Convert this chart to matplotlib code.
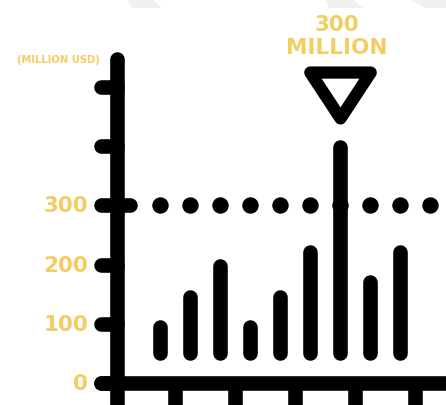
import matplotlib
matplotlib.use("Agg")
import matplotlib.pyplot as plt
from matplotlib.markers import MarkerStyle
from matplotlib.path import Path
from matplotlib.patches import Polygon

# data (million USD)
bar_pos = [1, 2, 3, 4, 5, 6, 7, 8, 9]
bar_vals = [95, 146, 197, 95, 146, 222, 398, 171, 222]
bar_base = 50
y_ticks = [0, 100, 200, 300, 400, 500]
y_labels = ['0', '100', '200', '300', '', '']
x_ticks = [1.5, 3.5, 5.5, 7.5, 9.5]
ref_level = 300
ref_dots = [1, 2, 3, 4, 5, 6, 7, 8, 9, 10]
peak_idx = 6
peak_text = ['300', 'MILLION']

YEL = '#f4cd62'
LW = 10.5
FONT = 'DejaVu Sans'

fig = plt.figure(figsize=(4.46, 4.06), dpi=100)
fig.patch.set_facecolor('white')

# faint watermark shapes at the top
for pts in [[(127, 0), (152, 0), (162, 9), (132, 9)],
            [(325, 0), (352, 0), (363, 9), (329, 9)],
            [(410, 0), (446, 0), (446, 9), (425, 9)]]:
    fig.patches.append(Polygon([(x / 446, 1 - y / 406) for x, y in pts],
                               closed=True, transform=fig.transFigure,
                               facecolor='#f0f0f0', edgecolor='none', zorder=0))

ax = fig.add_axes([0, 0, 1, 1])
ax.set_xlim(-4.333, 10.533)
ax.set_ylim(-37.2, 648.6)
ax.axis('off')
ax.patch.set_alpha(0)

x_axis = -0.433
# axes
ax.plot([x_axis, x_axis], [-60, 547], color='black', lw=LW, solid_capstyle='round')
ax.plot([-0.967, 12], [0, 0], color='black', lw=LW, solid_capstyle='round')

# y ticks + labels
for t, lab in zip(y_ticks, y_labels):
    right = 0.0 if t == ref_level else x_axis
    ax.plot([-0.967, right], [t, t], color='black', lw=LW, solid_capstyle='round')
    if lab:
        ax.text(-1.4, t, lab, ha='right', va='center', color=YEL,
                fontsize=15.5, fontweight='bold', family=FONT)

# x ticks
for t in x_ticks:
    ax.plot([t, t], [0, -60], color='black', lw=LW, solid_capstyle='butt')

# dotted reference line
ax.plot(ref_dots, [ref_level] * len(ref_dots), ls='none', marker='o',
        ms=10.8, color='black')

# bars as rounded strokes
for x, v in zip(bar_pos, bar_vals):
    ax.plot([x, x], [bar_base, v], color='black', lw=LW, solid_capstyle='round')

# unit label
ax.text(-1.0, 547, '(MILLION USD)', ha='right', va='center', color=YEL,
        fontsize=7.2, fontweight='bold', family=FONT)

# peak marker
tri = Path([(-1, 0.76), (1, 0.76), (0, -0.76), (-1, 0.76)],
           [Path.MOVETO, Path.LINETO, Path.LINETO, Path.CLOSEPOLY])
ms = MarkerStyle(tri, joinstyle='round')
px = bar_pos[peak_idx]
ax.plot([px], [486], marker=ms, ms=43.5, mfc='white', mec='black', mew=8.8,
        ls='none')
ax.text(px - 0.1, 607, peak_text[0], ha='center', va='center', color=YEL,
        fontsize=15.5, fontweight='bold', family=FONT)
ax.text(px - 0.1, 567, peak_text[1], ha='center', va='center', color=YEL,
        fontsize=15.5, fontweight='bold', family=FONT)

fig.savefig('out.png', dpi=100, facecolor='white')
